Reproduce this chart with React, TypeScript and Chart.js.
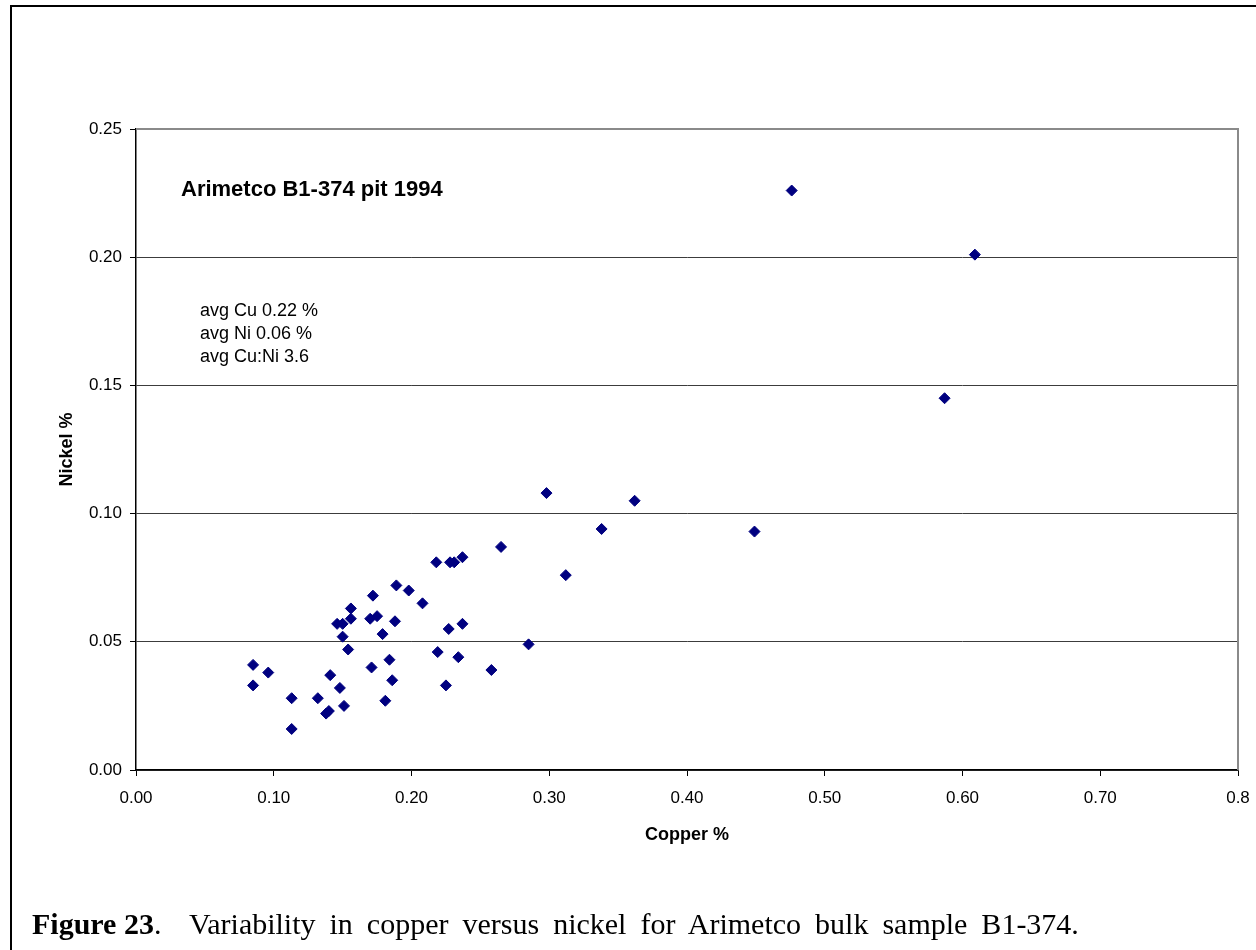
import React, { useEffect, useRef } from "react";
import { Chart, registerables } from "chart.js";

Chart.register(...registerables);

const copper = [
  0.476, 0.609, 0.587, 0.298, 0.362, 0.338, 0.449, 0.312, 0.265, 0.218,
  0.228, 0.231, 0.237, 0.189, 0.198, 0.172, 0.208, 0.156, 0.170, 0.175,
  0.156, 0.146, 0.150, 0.188, 0.150, 0.179, 0.154, 0.227, 0.237, 0.285,
  0.219, 0.234, 0.258, 0.225, 0.085, 0.096, 0.085, 0.113, 0.113, 0.141,
  0.132, 0.148, 0.138, 0.140, 0.151, 0.171, 0.184, 0.186, 0.181,
];
const nickel = [
  0.226, 0.201, 0.145, 0.108, 0.105, 0.094, 0.093, 0.076, 0.087, 0.081,
  0.081, 0.081, 0.083, 0.072, 0.070, 0.068, 0.065, 0.063, 0.059, 0.060,
  0.059, 0.057, 0.057, 0.058, 0.052, 0.053, 0.047, 0.055, 0.057, 0.049,
  0.046, 0.044, 0.039, 0.033, 0.041, 0.038, 0.033, 0.028, 0.016, 0.037,
  0.028, 0.032, 0.022, 0.023, 0.025, 0.040, 0.043, 0.035, 0.027,
];
const xTickLabels = ["0.00", "0.10", "0.20", "0.30", "0.40", "0.50", "0.60", "0.70", "0.8"];
const yTickLabels = ["0.00", "0.05", "0.10", "0.15", "0.20", "0.25"];
const chartTitle = "Arimetco B1-374 pit 1994";
const statLines = ["avg Cu 0.22 %", "avg Ni 0.06 %", "avg Cu:Ni 3.6"];
const xTitle = "Copper %";
const yTitle = "Nickel %";
const captionBold = "Figure 23";
const captionRest = ".  Variability in copper versus nickel for Arimetco bulk sample B1-374.";

const FONT = "'Liberation Sans', Arial, sans-serif";

const framePlugin = {
  id: "framePlugin",
  afterDraw(chart: any) {
    const { ctx, chartArea } = chart;
    const { left, top, right, bottom } = chartArea;
    ctx.save();
    ctx.strokeStyle = "#8a8a8a";
    ctx.lineWidth = 2;
    ctx.beginPath();
    ctx.moveTo(left, top);
    ctx.lineTo(right, top);
    ctx.lineTo(right, bottom);
    ctx.stroke();
    ctx.fillStyle = "#000";
    ctx.textBaseline = "middle";
    ctx.textAlign = "left";
    ctx.font = `bold 22px ${FONT}`;
    ctx.fillText(chartTitle, left + 45, top + 61);
    ctx.font = `18px ${FONT}`;
    statLines.forEach((t, i) => ctx.fillText(t, left + 64, top + 182 + i * 23));
    ctx.restore();
  },
};

export default function App() {
  const ref = useRef<HTMLCanvasElement>(null);
  useEffect(() => {
    const points = copper.map((c, i) => ({ x: c, y: nickel[i] }));
    const chart = new Chart(ref.current!, {
      type: "scatter",
      data: {
        datasets: [
          {
            data: points,
            pointStyle: "rectRot",
            pointRadius: 5.5,
            pointBorderWidth: 1,
            backgroundColor: "#000080",
            borderColor: "#000080",
          },
        ],
      },
      options: {
        animation: false,
        responsive: false,
        devicePixelRatio: 1,
        layout: { padding: { left: 0, top: 129, right: 18, bottom: 0 } },
        plugins: { legend: { display: false }, tooltip: { enabled: false } },
        scales: {
          x: {
            type: "linear",
            min: 0,
            max: 0.8,
            afterFit: (s: any) => {
              s.height = 180;
              s.paddingRight = 12;
            },
            ticks: {
              stepSize: 0.1,
              autoSkip: false,
              maxRotation: 0,
              padding: 12,
              color: "#000",
              font: { family: FONT, size: 17 },
              callback: (_v: any, i: number) => xTickLabels[i],
            },
            grid: { drawOnChartArea: false, drawTicks: true, tickLength: 6, tickColor: "#000" },
            border: { color: "#000", width: 1.5 },
            title: {
              display: true,
              text: xTitle,
              color: "#000",
              font: { family: FONT, size: 18, weight: "bold" },
              padding: { top: 0, bottom: 104 },
            },
          },
          y: {
            type: "linear",
            min: 0,
            max: 0.25,
            afterFit: (s: any) => { s.width = 136; },
            ticks: {
              stepSize: 0.05,
              padding: 8,
              color: "#000",
              font: { family: FONT, size: 17 },
              callback: (_v: any, i: number) => yTickLabels[i],
            },
            grid: {
              drawTicks: true,
              tickLength: 6,
              tickColor: "#000",
              lineWidth: 1,
              color: (c: any) =>
                c.tick && Math.abs(c.tick.value - 0.25) < 1e-9 ? "rgba(0,0,0,0)" : "#3c3c3c",
            },
            border: { color: "#000", width: 1.5 },
            title: {
              display: true,
              text: yTitle,
              color: "#000",
              font: { family: FONT, size: 18, weight: "bold" },
              padding: { top: 56, bottom: 0 },
            },
          },
        },
      },
      plugins: [framePlugin],
    });
    return () => chart.destroy();
  }, []);

  return (
    <div style={{ position: "absolute", left: 0, top: 0, width: 1256, height: 950, background: "#fff", overflow: "hidden" }}>
      <div
        style={{
          position: "absolute",
          left: 10,
          top: 5,
          width: 1260,
          height: 960,
          borderLeft: "2px solid #000",
          borderTop: "2px solid #000",
          boxSizing: "border-box",
        }}
      />
      <canvas ref={ref} width={1256} height={950} style={{ position: "absolute", left: 0, top: 0 }} />
      <div
        style={{
          position: "absolute",
          left: 32,
          top: 904,
          fontFamily: "'Liberation Serif', 'Times New Roman', serif",
          fontSize: 30,
          color: "#000",
          whiteSpace: "pre",
          lineHeight: "40px",
        }}
      >
        <b>{captionBold}</b>
        <span style={{ wordSpacing: "6.5px" }}>{captionRest}</span>
      </div>
    </div>
  );
}
